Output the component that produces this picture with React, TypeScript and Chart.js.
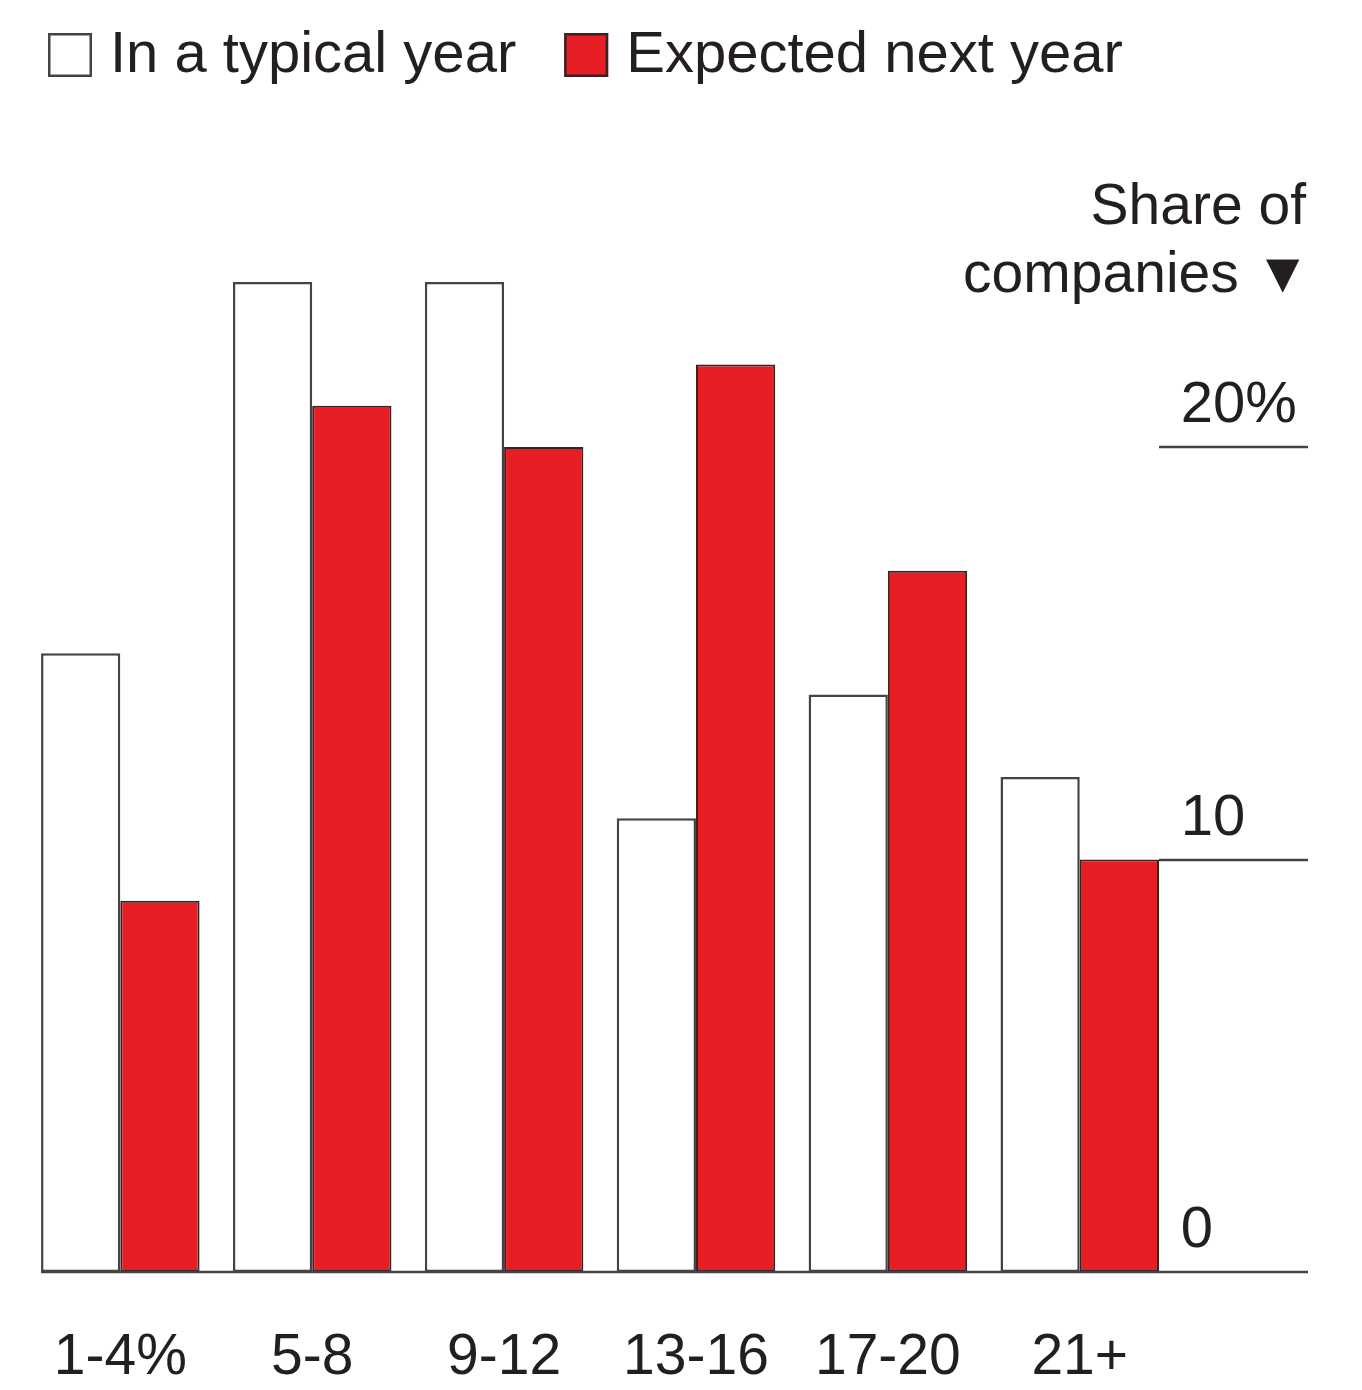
import React, { useEffect, useRef } from 'react';
import { Chart, registerables } from 'chart.js';

Chart.register(...registerables);

// ---- data ----
const categories = ['1-4%', '5-8', '9-12', '13-16', '17-20', '21+'];
const typicalYear = [15, 24, 24, 11, 14, 12];
const expectedNextYear = [9, 21, 20, 22, 17, 10];
const seriesLabels = ['In a typical year', 'Expected next year'];
const yTicks = [0, 10, 20];
const yTickLabels = ['0', '10', '20%'];
const axisTitleLines = ['Share of', 'companies ▼'];

// ---- styles ----
const FONT_FAMILY = "'Liberation Sans', Arial, Helvetica, sans-serif";
const TEXT_COLOR = '#231f20';
const LINE_COLOR = '#444444';
const RED = '#e81e26';

const decorPlugin = {
  id: 'decor',
  afterDatasetsDraw(chart: any) {
    const ctx = chart.ctx as CanvasRenderingContext2D;
    const y = chart.scales.y;
    const right = chart.width - 54;
    const m0 = chart.getDatasetMeta(0);
    const m1 = chart.getDatasetMeta(1);
    const firstBar = m0.data[0] as any;
    const lastBar = m1.data[m1.data.length - 1] as any;
    const leftX = firstBar.x - firstBar.width / 2;
    const lastRight = lastBar.x + lastBar.width / 2;

    ctx.save();
    ctx.strokeStyle = LINE_COLOR;
    ctx.lineWidth = 2.5;
    yTicks.forEach((v) => {
      const py = Math.round(y.getPixelForValue(v));
      ctx.beginPath();
      ctx.moveTo(v === 0 ? leftX : lastRight, py);
      ctx.lineTo(right, py);
      ctx.stroke();
    });

    // axis title
    ctx.fillStyle = TEXT_COLOR;
    ctx.font = `57px ${FONT_FAMILY}`;
    ctx.textAlign = 'right';
    ctx.textBaseline = 'alphabetic';
    ctx.fillText(axisTitleLines[0], right - 2, 224);
    ctx.fillText(axisTitleLines[1], right + 3, 292);

    // legend
    ctx.font = `58px ${FONT_FAMILY}`;
    ctx.textAlign = 'left';
    ctx.textBaseline = 'middle';
    let x = 48;
    const boxTop = 33;
    const box = 44;
    chart.data.datasets.forEach((ds: any) => {
      ctx.fillStyle = ds.backgroundColor;
      ctx.fillRect(x, boxTop, box, box);
      ctx.strokeStyle = ds.borderColor;
      ctx.lineWidth = 2.5;
      ctx.strokeRect(x + 1.25, boxTop + 1.25, box - 2.5, box - 2.5);
      const tx = x + box + 18;
      ctx.fillStyle = TEXT_COLOR;
      ctx.fillText(ds.label, tx, 56);
      x = tx + ctx.measureText(ds.label).width + 48;
    });
    ctx.restore();
  },
};

export default function App() {
  const canvasRef = useRef<HTMLCanvasElement | null>(null);

  useEffect(() => {
    document.body.style.margin = '0';
    const canvas = canvasRef.current;
    if (!canvas) return;
    const tickFont = { family: FONT_FAMILY, size: 57 };
    const chart = new Chart(canvas, {
      type: 'bar',
      data: {
        labels: categories,
        datasets: [
          {
            label: seriesLabels[0],
            data: typicalYear,
            backgroundColor: '#ffffff',
            borderColor: LINE_COLOR,
            borderWidth: 2.5,
            borderSkipped: false,
            barPercentage: 1,
            categoryPercentage: 0.826,
          },
          {
            label: seriesLabels[1],
            data: expectedNextYear,
            backgroundColor: RED,
            borderColor: '#3a2222',
            borderWidth: 2,
            borderSkipped: false,
            barPercentage: 1,
            categoryPercentage: 0.826,
          },
        ],
      },
      options: {
        animation: false,
        responsive: false,
        devicePixelRatio: 1,
        layout: { padding: { top: 240.75, left: 21.3, right: 0, bottom: 0 } },
        plugins: {
          legend: { display: false },
          tooltip: { enabled: false },
        },
        scales: {
          x: {
            grid: { display: false, drawTicks: false },
            border: { display: false },
            ticks: {
              font: tickFont,
              color: TEXT_COLOR,
              padding: 52,
              maxRotation: 0,
              autoSkip: false,
            },
            afterFit: (s: any) => {
              s.height = 118;
            },
          },
          y: {
            position: 'right',
            min: 0,
            max: 25,
            grid: { display: false, drawTicks: false },
            border: { display: false },
            afterBuildTicks: (s: any) => {
              s.ticks = yTicks.map((v) => ({ value: v }));
            },
            ticks: {
              font: { family: FONT_FAMILY, size: 58 },
              color: TEXT_COLOR,
              padding: 5,
              labelOffset: -41,
              callback: (value: any) => {
                const i = yTicks.indexOf(Number(value));
                return i >= 0 ? yTickLabels[i] : '';
              },
            },
            afterFit: (s: any) => {
              s.width = 186.3;
            },
          },
        },
      } as any,
      plugins: [decorPlugin],
    });
    return () => chart.destroy();
  }, []);

  return (
    <div style={{ width: 1362, height: 1390 }}>
      <canvas ref={canvasRef} width={1362} height={1390} style={{ display: 'block' }} />
    </div>
  );
}
